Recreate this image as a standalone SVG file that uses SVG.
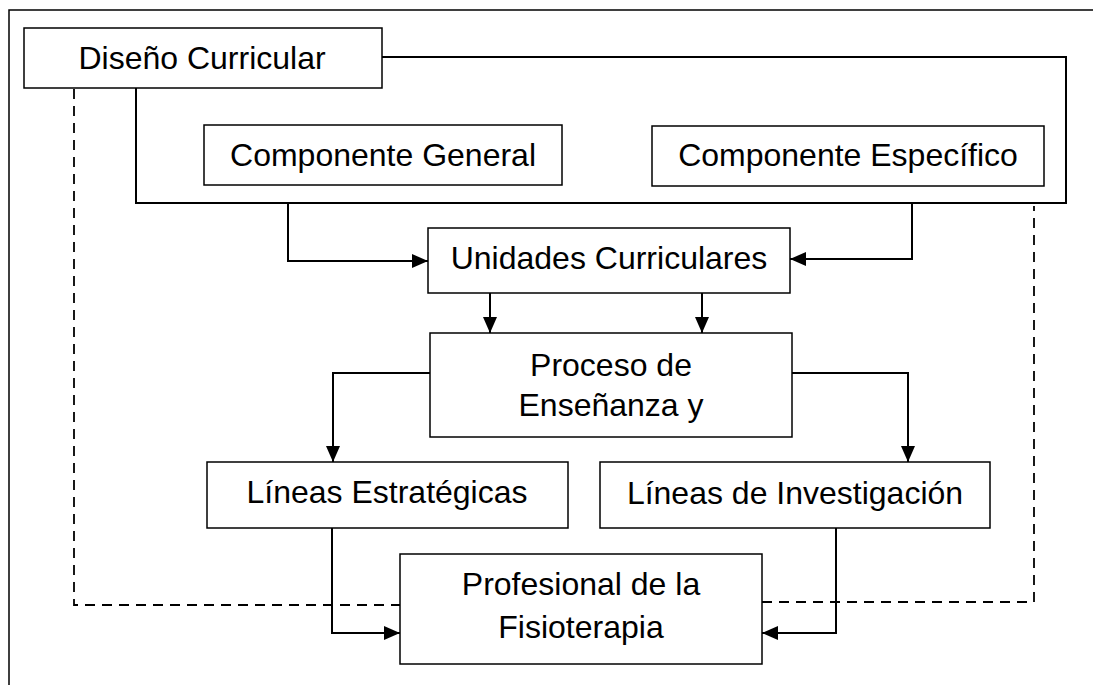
<svg xmlns="http://www.w3.org/2000/svg" width="1093" height="685" viewBox="0 0 1093 685">
<defs>
<style>
.box{fill:#fff;stroke:#000;stroke-width:1.5}
.t{font-family:"Liberation Sans",Arial,sans-serif;font-size:32px;fill:#000;text-anchor:middle}
.c{fill:none;stroke:#000;stroke-width:2}
.d{fill:none;stroke:#000;stroke-width:1.8;stroke-dasharray:10 7}
</style>
<marker id="ah" markerUnits="userSpaceOnUse" markerWidth="16" markerHeight="14" refX="16" refY="7" orient="auto">
<path d="M0,0 L16,7 L0,14 z" fill="#000"/>
</marker>
</defs>
<rect width="1093" height="685" fill="#fff"/>
<path d="M9,685 V10 H1093" fill="none" stroke="#000" stroke-width="1.5"/>
<g id="connectors">
<path class="c" d="M382,57 H1066 V203 H136 V88"/>
<path class="c" d="M288,204 V261 H428" marker-end="url(#ah)"/>
<path class="c" d="M912,204 V259 H790" marker-end="url(#ah)"/>
<path class="c" d="M490,293 V333" marker-end="url(#ah)"/>
<path class="c" d="M702,293 V333" marker-end="url(#ah)"/>
<path class="c" d="M430,373 H333 V462" marker-end="url(#ah)"/>
<path class="c" d="M792,373 H908 V462" marker-end="url(#ah)"/>
<path class="c" d="M332,528 V633 H400" marker-end="url(#ah)"/>
<path class="c" d="M836,528 V633 H762" marker-end="url(#ah)"/>
<path class="d" d="M74,89 V605 H400"/>
<path class="d" d="M762,602 H1034 V206"/>
</g>
<g id="diseno">
<rect class="box" x="24" y="28" width="358" height="60"/>
<text class="t" x="202" y="69">Diseño Curricular</text>
</g>
<g id="comp-general">
<rect class="box" x="204" y="125" width="358" height="60"/>
<text class="t" x="383" y="166">Componente General</text>
</g>
<g id="comp-especifico">
<rect class="box" x="652" y="126" width="392" height="60"/>
<text class="t" x="848" y="166">Componente Específico</text>
</g>
<g id="unidades">
<rect class="box" x="428" y="228" width="362" height="65"/>
<text class="t" x="609" y="269">Unidades Curriculares</text>
</g>
<g id="proceso">
<rect class="box" x="430" y="333" width="362" height="104"/>
<text class="t" x="611" y="376">Proceso de</text>
<text class="t" x="611" y="416">Enseñanza y</text>
</g>
<g id="lineas-estrategicas">
<rect class="box" x="207" y="462" width="361" height="66"/>
<text class="t" x="387" y="503">Líneas Estratégicas</text>
</g>
<g id="lineas-investigacion">
<rect class="box" x="600" y="462" width="390" height="66"/>
<text class="t" x="795" y="504">Líneas de Investigación</text>
</g>
<g id="profesional">
<rect class="box" x="400" y="554" width="362" height="110"/>
<text class="t" x="581" y="595">Profesional de la</text>
<text class="t" x="581" y="638">Fisioterapia</text>
</g>
</svg>
